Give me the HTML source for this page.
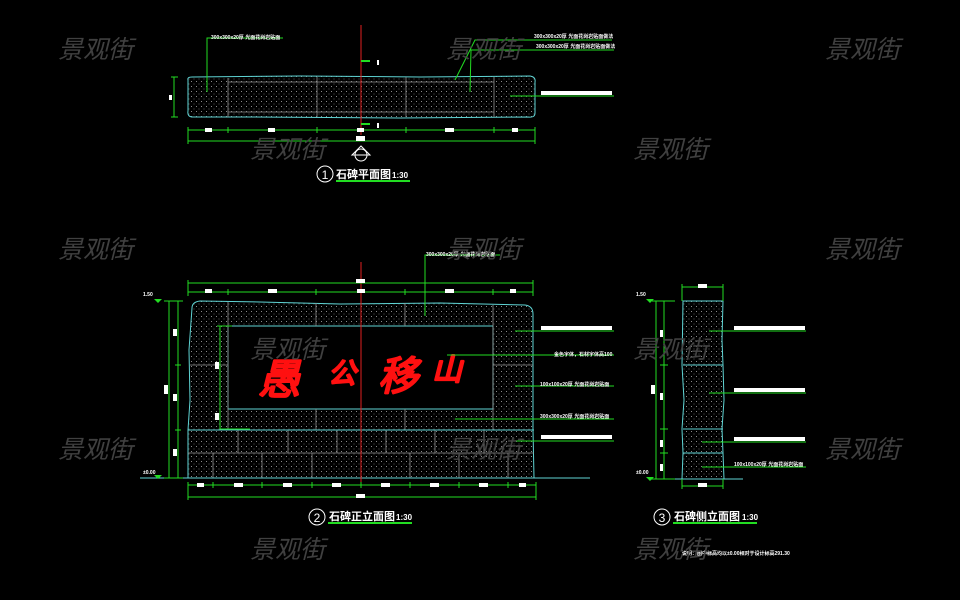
<!DOCTYPE html>
<html><head><meta charset="utf-8">
<style>
html,body{margin:0;padding:0;background:#000;}
svg{display:block;}
text{font-family:"Liberation Sans","Noto Sans CJK SC",sans-serif;}
.wm{font-family:"Liberation Sans","Noto Sans CJK SC",sans-serif;font-size:25px;fill:#444;font-style:italic;opacity:0.95;}
.sm{fill:#fff;font-size:5px;font-weight:bold;}
</style></head><body>
<svg width="960" height="600" viewBox="0 0 960 600" xmlns="http://www.w3.org/2000/svg">
<defs>
<pattern id="dots" width="5" height="5" patternUnits="userSpaceOnUse">
<rect x="1" y="1" width="1" height="1" fill="#8a8a8a"/>
<rect x="3.5" y="3.5" width="1" height="1" fill="#5a5a5a"/>
</pattern>
</defs>
<rect width="960" height="600" fill="#000"/>

<!-- ============ PLAN VIEW ============ -->
<path d="M188,80 Q187,77 192,77 L300,76 L420,77 L530,76 Q536,77 535,82 L535,113 Q535,118 528,117 L400,118 L250,117 L193,117 Q187,117 188,111 Z" fill="url(#dots)" stroke="#5fd4d4" stroke-width="1"/>
<g stroke="#909090" stroke-width="0.8">
<line x1="228" y1="78" x2="228" y2="117"/><line x1="317" y1="77" x2="317" y2="117"/>
<line x1="406" y1="77" x2="406" y2="117"/><line x1="494" y1="77" x2="494" y2="117"/>
<line x1="228" y1="82" x2="494" y2="82"/><line x1="228" y1="112" x2="494" y2="112"/>
</g>
<line x1="361" y1="25" x2="361" y2="135" stroke="#e02020" stroke-width="1"/>
<g stroke="#22dd22" stroke-width="1" fill="none">
<line x1="361" y1="61" x2="370" y2="61" stroke-width="2"/>
<line x1="361" y1="124" x2="370" y2="124" stroke-width="2"/>
<line x1="174" y1="77" x2="174" y2="117"/><line x1="171" y1="77" x2="178" y2="77"/><line x1="171" y1="117" x2="178" y2="117"/>
<line x1="188" y1="130" x2="535" y2="130"/>
<line x1="188" y1="141" x2="535" y2="141"/>
<line x1="188" y1="127" x2="188" y2="144"/><line x1="535" y1="127" x2="535" y2="144"/>
<line x1="228" y1="127" x2="228" y2="133"/><line x1="317" y1="127" x2="317" y2="133"/>
<line x1="406" y1="127" x2="406" y2="133"/><line x1="494" y1="127" x2="494" y2="133"/>
<polyline points="207,92 207,38 283,38"/>
<polyline points="455,80 475,40 612,40"/>
<polyline points="470,92 471,50 614,50"/>
<line x1="510" y1="96" x2="614" y2="96"/>
</g>
<rect x="541" y="91" width="71" height="4" fill="#fff"/>
<rect x="169" y="95" width="3" height="5" fill="#fff"/>
<g fill="#fff">
<rect x="205" y="128" width="7" height="4"/><rect x="268" y="128" width="7" height="4"/>
<rect x="357" y="128" width="7" height="4"/><rect x="445" y="128" width="9" height="4"/>
<rect x="512" y="128" width="6" height="4"/><rect x="356" y="136" width="9" height="5"/>
<rect x="377" y="60" width="2" height="5"/><rect x="377" y="123" width="2" height="5"/>
</g>
<text x="211" y="39" class="sm">300x300x20厚 光面花岗岩贴面</text>
<text x="534" y="38" class="sm">300x300x20厚 光面花岗岩贴面做法</text>
<text x="536" y="48" class="sm">300x300x20厚 光面花岗岩贴面做法</text>
<circle cx="361" cy="155" r="6" fill="none" stroke="#fff" stroke-width="1"/>
<polygon points="352,155 361,146 370,155" fill="none" stroke="#fff"/>
<circle cx="325" cy="174" r="8" fill="none" stroke="#fff" stroke-width="1"/>
<text x="325" y="179" fill="#fff" font-size="12" text-anchor="middle">1</text>
<text x="336" y="178" fill="#fff" font-size="11" font-weight="bold">石碑平面图</text>
<text x="392" y="178" fill="#fff" font-size="8" font-weight="bold">1:30</text>
<line x1="336" y1="181" x2="410" y2="181" stroke="#22dd22" stroke-width="2"/>

<!-- ============ FRONT ELEVATION ============ -->
<path d="M192,308 Q192,302 200,301 L260,302 L340,304 L440,303 L525,305 Q533,306 533,314 L533,430 L534,478 L188,478 L188,430 L190,400 L189,350 Z" fill="url(#dots)" stroke="#5fd4d4" stroke-width="1"/>
<rect x="228" y="326" width="265" height="83" fill="#000" stroke="#5fd4d4" stroke-width="1"/>
<g stroke="#909090" stroke-width="0.8">
<line x1="228" y1="302" x2="228" y2="430"/><line x1="316" y1="303" x2="316" y2="326"/>
<line x1="405" y1="303" x2="405" y2="326"/><line x1="493" y1="305" x2="493" y2="430"/>
<line x1="316" y1="409" x2="316" y2="430"/><line x1="405" y1="409" x2="405" y2="430"/>
<line x1="190" y1="365" x2="228" y2="365"/><line x1="493" y1="365" x2="533" y2="365"/>
<line x1="188" y1="453" x2="534" y2="453"/>
<line x1="238" y1="430" x2="238" y2="453"/><line x1="288" y1="430" x2="288" y2="453"/>
<line x1="337" y1="430" x2="337" y2="453"/><line x1="386" y1="430" x2="386" y2="453"/>
<line x1="435" y1="430" x2="435" y2="453"/><line x1="484" y1="430" x2="484" y2="453"/>
<line x1="213" y1="453" x2="213" y2="478"/><line x1="262" y1="453" x2="262" y2="478"/>
<line x1="312" y1="453" x2="312" y2="478"/><line x1="361" y1="453" x2="361" y2="478"/>
<line x1="410" y1="453" x2="410" y2="478"/><line x1="459" y1="453" x2="459" y2="478"/>
<line x1="508" y1="453" x2="508" y2="478"/>
</g>
<line x1="188" y1="430" x2="534" y2="430" stroke="#5fd4d4" stroke-width="1"/>
<line x1="140" y1="478" x2="590" y2="478" stroke="#5fd4d4" stroke-width="1"/>
<g fill="#ff1010" stroke="#ff1010" stroke-width="2.2" stroke-linejoin="round" font-family="'Noto Serif CJK SC',serif" font-style="italic">
<text x="258" y="394" font-size="42">愚</text><text x="328" y="383" font-size="28">公</text>
<text x="378" y="390" font-size="40">移</text><text x="432" y="380" font-size="30">山</text>
</g>
<line x1="361" y1="262" x2="361" y2="485" stroke="#e02020" stroke-width="1"/>
<g stroke="#22dd22" stroke-width="1" fill="none">
<line x1="188" y1="283" x2="533" y2="283"/><line x1="188" y1="292" x2="533" y2="292"/>
<line x1="188" y1="280" x2="188" y2="296"/><line x1="533" y1="280" x2="533" y2="296"/>
<line x1="228" y1="289" x2="228" y2="295"/><line x1="316" y1="289" x2="316" y2="295"/>
<line x1="405" y1="289" x2="405" y2="295"/><line x1="493" y1="289" x2="493" y2="295"/>
<line x1="188" y1="485" x2="536" y2="485"/><line x1="188" y1="497" x2="536" y2="497"/>
<line x1="188" y1="482" x2="188" y2="500"/><line x1="536" y1="482" x2="536" y2="500"/>
<line x1="213" y1="482" x2="213" y2="488"/><line x1="262" y1="482" x2="262" y2="488"/>
<line x1="312" y1="482" x2="312" y2="488"/><line x1="361" y1="482" x2="361" y2="488"/>
<line x1="410" y1="482" x2="410" y2="488"/><line x1="459" y1="482" x2="459" y2="488"/>
<line x1="508" y1="482" x2="508" y2="488"/>
<line x1="169" y1="301" x2="169" y2="478"/><line x1="178" y1="301" x2="178" y2="478"/>
<line x1="164" y1="301" x2="183" y2="301"/><line x1="164" y1="478" x2="183" y2="478"/>
<line x1="175" y1="365" x2="181" y2="365"/><line x1="175" y1="430" x2="181" y2="430"/>
<polyline points="220,326 220,429 250,429"/>
<line x1="217" y1="326" x2="232" y2="326"/>
<polyline points="425,316 425,255 500,255"/>
<line x1="515" y1="331" x2="614" y2="331"/>
<line x1="447" y1="355" x2="614" y2="355"/>
<line x1="515" y1="386" x2="614" y2="386"/>
<line x1="455" y1="419" x2="614" y2="419"/>
<line x1="515" y1="441" x2="614" y2="441"/>
</g>
<g fill="#22dd22"><polygon points="154,299 162,299 158,303"/><polygon points="154,475 162,475 158,479"/></g>
<g fill="#fff">
<rect x="541" y="326" width="71" height="4"/><rect x="541" y="435" width="71" height="4"/>
<rect x="356" y="279" width="9" height="4"/>
<rect x="205" y="289" width="7" height="4"/><rect x="268" y="289" width="9" height="4"/>
<rect x="357" y="289" width="8" height="4"/><rect x="445" y="289" width="9" height="4"/>
<rect x="510" y="289" width="6" height="4"/>
<rect x="197" y="483" width="7" height="4"/><rect x="234" y="483" width="9" height="4"/>
<rect x="283" y="483" width="9" height="4"/><rect x="332" y="483" width="9" height="4"/>
<rect x="381" y="483" width="9" height="4"/><rect x="430" y="483" width="9" height="4"/>
<rect x="479" y="483" width="9" height="4"/><rect x="519" y="483" width="7" height="4"/>
<rect x="356" y="494" width="9" height="4"/>
<rect x="164" y="385" width="4" height="9"/><rect x="173" y="329" width="4" height="7"/>
<rect x="173" y="394" width="4" height="7"/><rect x="173" y="449" width="4" height="7"/>
<rect x="215" y="362" width="4" height="7"/><rect x="215" y="413" width="4" height="7"/>
</g>
<text x="143" y="296" class="sm">1.50</text>
<text x="143" y="474" class="sm">±0.00</text>
<text x="426" y="256" class="sm">300x300x20厚 光面花岗岩贴面</text>
<text x="554" y="356" class="sm">金色字体，石材字体高100</text>
<text x="540" y="386" class="sm">100x100x20厚 光面花岗岩贴面</text>
<text x="540" y="418" class="sm">300x300x20厚 光面花岗岩贴面</text>
<circle cx="317" cy="517" r="8" fill="none" stroke="#fff" stroke-width="1"/>
<text x="317" y="522" fill="#fff" font-size="12" text-anchor="middle">2</text>
<text x="329" y="520" fill="#fff" font-size="11" font-weight="bold">石碑正立面图</text>
<text x="396" y="520" fill="#fff" font-size="8" font-weight="bold">1:30</text>
<line x1="328" y1="523" x2="412" y2="523" stroke="#22dd22" stroke-width="2"/>

<!-- ============ SIDE ELEVATION ============ -->
<path d="M683,301 L723,301 L722,340 L723,365 L724,400 L722,429 L723,453 L724,479 L682,479 L683,453 L682,429 L684,400 L682,365 Z" fill="url(#dots)" stroke="#5fd4d4" stroke-width="1"/>
<g stroke="#5fd4d4" stroke-width="1">
<line x1="683" y1="365" x2="723" y2="365"/><line x1="683" y1="429" x2="723" y2="429"/>
<line x1="683" y1="453" x2="723" y2="453"/><line x1="650" y1="479" x2="743" y2="479"/>
</g>
<g stroke="#22dd22" stroke-width="1" fill="none">
<line x1="682" y1="287" x2="723" y2="287"/><line x1="682" y1="284" x2="682" y2="301"/><line x1="723" y1="284" x2="723" y2="301"/>
<line x1="682" y1="486" x2="723" y2="486"/><line x1="682" y1="479" x2="682" y2="489"/><line x1="723" y1="479" x2="723" y2="489"/>
<line x1="656" y1="301" x2="656" y2="479"/><line x1="664" y1="301" x2="664" y2="479"/>
<line x1="652" y1="301" x2="675" y2="301"/><line x1="652" y1="479" x2="675" y2="479"/>
<line x1="660" y1="365" x2="668" y2="365"/><line x1="660" y1="429" x2="668" y2="429"/><line x1="660" y1="453" x2="668" y2="453"/>
<line x1="709" y1="331" x2="806" y2="331"/>
<line x1="709" y1="393" x2="806" y2="393"/>
<line x1="702" y1="442" x2="806" y2="442"/>
<line x1="702" y1="467" x2="806" y2="467"/>
</g>
<g fill="#22dd22"><polygon points="646,299 654,299 650,303"/><polygon points="646,477 654,477 650,481"/></g>
<g fill="#fff">
<rect x="734" y="326" width="71" height="4"/><rect x="734" y="388" width="71" height="4"/>
<rect x="734" y="437" width="71" height="4"/>
<rect x="698" y="284" width="9" height="4"/><rect x="698" y="483" width="9" height="4"/>
<rect x="651" y="385" width="4" height="9"/>
<rect x="660" y="330" width="3" height="7"/><rect x="660" y="393" width="3" height="7"/>
<rect x="660" y="440" width="3" height="7"/><rect x="660" y="464" width="3" height="7"/>
</g>
<text x="636" y="296" class="sm">1.50</text>
<text x="636" y="474" class="sm">±0.00</text>
<text x="734" y="466" class="sm">100x100x20厚 光面花岗岩贴面</text>
<circle cx="662" cy="517" r="8" fill="none" stroke="#fff" stroke-width="1"/>
<text x="662" y="522" fill="#fff" font-size="12" text-anchor="middle">3</text>
<text x="674" y="520" fill="#fff" font-size="11" font-weight="bold">石碑侧立面图</text>
<text x="742" y="520" fill="#fff" font-size="8" font-weight="bold">1:30</text>
<line x1="673" y1="523" x2="757" y2="523" stroke="#22dd22" stroke-width="2"/>
<text x="682" y="555" class="sm" font-size="6">说明：图中标高均以±0.00相对于设计标高291.30</text>

<!-- ============ WATERMARKS ============ -->
<g class="wm">
<text x="58" y="58">景观街</text><text x="446" y="58">景观街</text><text x="825" y="58">景观街</text>
<text x="250" y="158">景观街</text><text x="633" y="158">景观街</text>
<text x="58" y="258">景观街</text><text x="446" y="258">景观街</text><text x="825" y="258">景观街</text>
<text x="250" y="358">景观街</text><text x="633" y="358">景观街</text>
<text x="58" y="458">景观街</text><text x="446" y="458">景观街</text><text x="825" y="458">景观街</text>
<text x="250" y="558">景观街</text><text x="633" y="558">景观街</text>
</g>
</svg>
</body></html>
